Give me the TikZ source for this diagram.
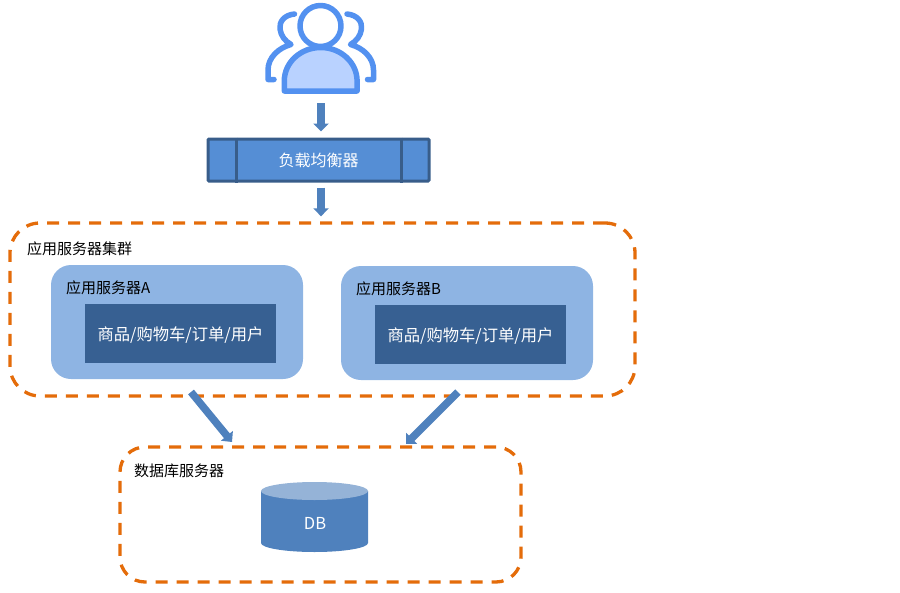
\documentclass[tikz,border=0pt]{standalone}
\usepackage{fontspec}
\setmainfont{Noto Sans CJK SC}
\usetikzlibrary{arrows.meta,shapes.geometric}
\definecolor{iconblue}{HTML}{5391F0}
\definecolor{iconfill}{HTML}{B9D2FF}
\definecolor{lbfill}{HTML}{558ED5}
\definecolor{lbline}{HTML}{385D8A}
\definecolor{flow}{HTML}{4F81BD}
\definecolor{dashorange}{HTML}{E46C0A}
\definecolor{serverfill}{HTML}{8EB4E3}
\definecolor{modfill}{HTML}{376092}
\definecolor{dbtop}{HTML}{95B3D7}
\tikzset{
  flowarrow/.style={draw=flow,line width=7.5pt,-{Triangle[length=8pt,width=15pt]}},
  groupbox/.style={draw=dashorange,line width=3.3pt,dash pattern=on 12pt off 9pt,rectangle,inner sep=0pt},
  serverbox/.style={rectangle,fill=serverfill,rounded corners=20pt,minimum width=252pt,minimum height=114pt,inner sep=0pt},
  modbox/.style={rectangle,fill=modfill,minimum width=191pt,minimum height=59pt,inner sep=0pt,text=white,font=\fontsize{16.3}{18}\selectfont},
  lbl/.style={anchor=west,inner sep=0pt,font=\fontsize{15}{17}\selectfont,text=black},
  iconline/.style={draw=iconblue,line width=5.5pt,line join=round,line cap=round}
}
\begin{document}
\begin{tikzpicture}[x=1pt,y=-1pt]
\useasboundingbox (0,0) rectangle (900,592);
% user icon
\draw[iconline] (294.5,14) .. controls (284,15) and (279,22) .. (280,29) .. controls (281,36) and (285,41) .. (291,44.5) .. controls (278,48) and (268,58) .. (268,70) -- (268,79.5) -- (274,79.5);
\draw[iconline] (347,14) .. controls (357.5,15) and (362.5,22) .. (361.5,29) .. controls (360.5,36) and (356.5,41) .. (350.5,44.5) .. controls (363.5,48) and (373.5,58) .. (373.5,70) -- (373.5,79.5) -- (367.5,79.5);
\draw[iconline,fill=iconfill] (284.3,91) -- (284.3,81) arc[start angle=180,end angle=360,x radius=36.4,y radius=33.5] -- (357.1,91) -- cycle;
\draw[iconline,fill=white] (320.5,26) circle[radius=20.5];
\node[rectangle,minimum width=112pt,minimum height=94pt,inner sep=0pt] (user) at (321,47) {};
% load balancer
\node[rectangle,draw=lbline,fill=lbfill,line width=3pt,minimum width=221pt,minimum height=42pt,inner sep=0pt,text=white,font=\fontsize{16}{18}\selectfont,rounded corners=1pt] (lb) at (318.5,160) {负载均衡器};
\draw[lbline,line width=3pt] ([xshift=29.5pt]lb.north west) -- ([xshift=29.5pt]lb.south west);
\draw[lbline,line width=3pt] ([xshift=-29.5pt]lb.north east) -- ([xshift=-29.5pt]lb.south east);
% application cluster
\node[groupbox,rounded corners=30pt,minimum width=625pt,minimum height=173pt] (cluster) at (322.5,309.5) {};
\node[lbl] (clusterlabel) at (27,249) {应用服务器集群};
\node[serverbox] (srva) at (177,322) {};
\node[lbl] (srvalabel) at (66,288) {应用服务器A};
\node[modbox,text depth=-3pt] (moda) at (180.5,333.5) {商品/购物车/订单/用户};
\node[serverbox] (srvb) at (467,323) {};
\node[lbl] (srvblabel) at (356,289) {应用服务器B};
\node[modbox,text depth=-3pt] (modb) at (470.5,334.5) {商品/购物车/订单/用户};
% database group
\node[groupbox,rounded corners=25pt,minimum width=401pt,minimum height=135pt] (dbgroup) at (320.5,514.5) {};
\node[lbl] (dblabel) at (134,471) {数据库服务器};
\fill[flow] (261,491) -- (261,543) arc[start angle=180,end angle=0,x radius=53.5,y radius=9] -- (368,491) -- cycle;
\fill[dbtop] (314.5,491) ellipse[x radius=53.5,y radius=9];
\node[rectangle,inner sep=0pt,text=white,font=\fontsize{16.5}{18}\selectfont] (db) at (315,523) {DB};
% connectors
\coordinate (a1) at (191,392);
\coordinate (a2) at (232,442);
\coordinate (b1) at (458,392);
\coordinate (b2) at (406,444);
\draw[flowarrow,shorten <=9pt,shorten >=6pt] (user.south) -- (user.south |- lb.north);
\draw[flowarrow,shorten <=5pt,shorten >=5pt] (user.south |- lb.south) -- (user.south |- cluster.north);
\draw[flowarrow] (a1) -- (a2);
\draw[flowarrow] (b1) -- (b2);
\end{tikzpicture}
\end{document}
